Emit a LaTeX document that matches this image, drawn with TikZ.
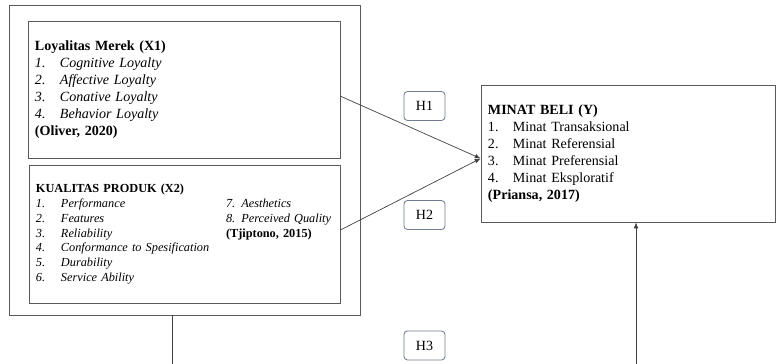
\documentclass[tikz,border=0pt]{standalone}
\usepackage{fontspec}
\setmainfont{Liberation Serif}
\usepackage{xcolor}
\usetikzlibrary{arrows.meta, positioning, calc}

\definecolor{boxline}{RGB}{90,90,90}
\definecolor{hypline}{RGB}{110,125,145}
\newcommand{\itm}[2]{\makebox[0.75cm][l]{#1}#2}

\begin{document}
\begin{tikzpicture}[
    x=0.03cm, y=-0.03cm,
    frame/.style={draw=boxline, line width=0.7pt},
    varbox/.style={frame, align=left, inner xsep=0.21cm, inner ysep=0pt,
                   font=\fontsize{12}{14.5}\selectfont},
    hyp/.style={draw=hypline, rounded corners=3pt, line width=0.7pt,
                minimum width=1.23cm, minimum height=0.87cm,
                font=\fontsize{12}{14}\selectfont},
    arr/.style={-{Latex[length=5pt, width=4pt]}, line width=0.6pt, black!75},
]
\useasboundingbox (0,0) rectangle (777,364);

% --- Outer frame round the two independent variables ---
\node[frame, minimum width=10.53cm, minimum height=9.3cm] (outer) at (184.5, 160) {};

% --- Loyalitas Merek ---
\node[varbox, text width=8.94cm, minimum height=4.11cm] (x1) at (184, 89.5) {%
  \textbf{Loyalitas Merek (X1)}\\
  \itm{\textit{1.}}{\textit{Cognitive Loyalty}}\\
  \itm{\textit{2.}}{\textit{Affective Loyalty}}\\
  \itm{\textit{3.}}{\textit{Conative Loyalty}}\\
  \itm{\textit{4.}}{\textit{Behavior Loyalty}}\\
  \textbf{(Oliver, 2020)}};

% --- Kualitas Produk ---
\node[varbox, text width=8.91cm, minimum height=4.14cm,
      font=\fontsize{10.5}{12.8}\selectfont] (x2) at (184.5, 234) {%
  \begin{tabular}{@{}p{5.7cm}@{}l@{}}
  \multicolumn{2}{@{}l}{\textbf{KUALITAS PRODUK (X2)}}\\
  \itm{\textit{1.}}{\textit{Performance}} & \textit{7. Aesthetics}\\
  \itm{\textit{2.}}{\textit{Features}} & \textit{8. Perceived Quality}\\
  \itm{\textit{3.}}{\textit{Reliability}} & \textbf{(Tjiptono, 2015)}\\
  \itm{\textit{4.}}{\textit{Conformance to Spesification}} & \\
  \itm{\textit{5.}}{\textit{Durability}} & \\
  \itm{\textit{6.}}{\textit{Service Ability}} &
  \end{tabular}};

% --- Minat Beli ---
\node[varbox, text width=8.4cm, minimum height=4.11cm] (y) at (628, 153.5) {%
  \textbf{MINAT BELI (Y)}\\
  \itm{1.}{Minat Transaksional}\\
  \itm{2.}{Minat Referensial}\\
  \itm{3.}{Minat Preferensial}\\
  \itm{4.}{Minat Eksploratif}\\
  \textbf{(Priansa, 2017)}};

% --- Hypothesis labels ---
\node[hyp] (h1) at (424.5, 106)   {H1};
\node[hyp] (h2) at (424.5, 215)   {H2};
\node[hyp] (h3) at (424.5, 345.5) {H3};

% ===================== EDGES =====================
\coordinate (target) at ([yshift=-0.15cm]y.west);
\draw[arr] ([yshift=-0.2cm]x1.east) -- (target);
\draw[arr] ([yshift=0.12cm]x2.east) -- (target);

% simultaneous effect, routed below the picture edge
\draw[arr] ([xshift=-0.35cm]outer.south) -- ++(0,60) -| ([xshift=0.24cm]y.south);

\end{tikzpicture}
\end{document}
